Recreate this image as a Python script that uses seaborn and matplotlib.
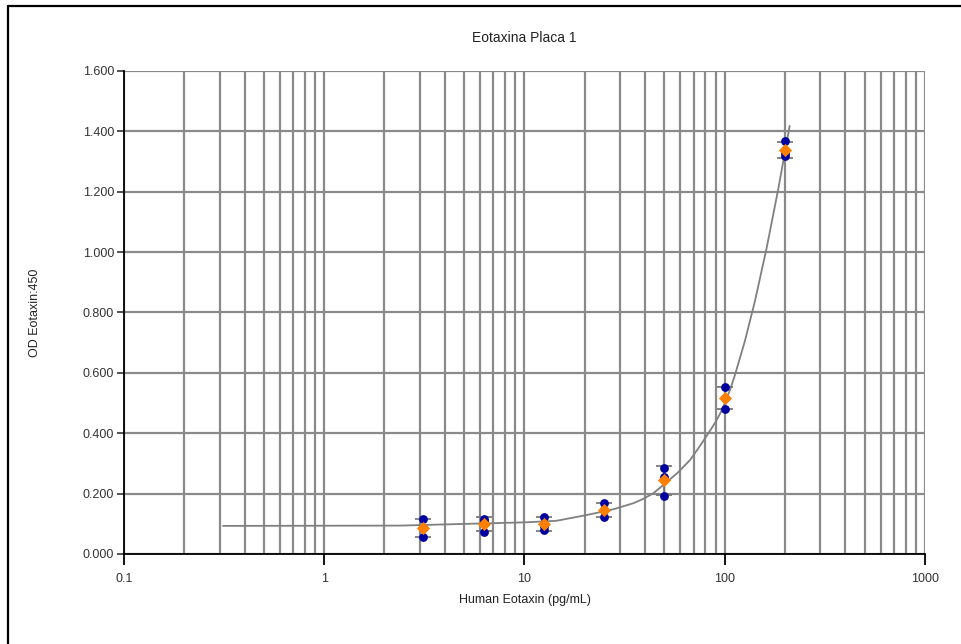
import numpy as np
import pandas as pd
import matplotlib
matplotlib.use("Agg")
import matplotlib.pyplot as plt
from matplotlib.lines import Line2D
from matplotlib.ticker import LogLocator, FixedLocator, NullFormatter
import seaborn as sns

# standards (pg/mL) and triplicate OD readings
conc = [3.125, 6.25, 12.5, 25, 50, 100, 200]
rep1 = [0.116, 0.109, 0.123, 0.169, 0.285, 0.553, 1.368]
rep2 = [0.086, 0.073, 0.080, 0.123, 0.255, 0.517, 1.318]
rep3 = [0.056, 0.115, 0.094, 0.146, 0.192, 0.480, 1.328]

# fitted curve
curve_x = [0.312, 2.39, 10.26, 14.48, 20.45, 27.76, 34.94, 39.07, 43.98, 50.71,
           58.42, 67.08, 73.50, 81.26, 89.39, 94.69, 100.3, 106.2, 112.5, 126.2,
           141.6, 162.0, 185.1, 211.0]
curve_y = [0.093, 0.094, 0.105, 0.110, 0.129, 0.148, 0.168, 0.182, 0.201, 0.235,
           0.270, 0.311, 0.348, 0.391, 0.434, 0.464, 0.500, 0.543, 0.593, 0.706,
           0.838, 1.014, 1.209, 1.418]

reps = pd.DataFrame({
    "conc": conc * 3,
    "od": rep1 + rep2 + rep3,
})
stats = reps.groupby("conc")["od"].agg(["mean", "std"]).reset_index()
curve = pd.DataFrame({"conc": curve_x, "od": curve_y})

sns.set_style("white")
plt.rcParams["font.family"] = ["Liberation Sans", "DejaVu Sans"]

fig = plt.figure(figsize=(9.61, 6.44), dpi=100)
ax = fig.add_axes([0.129, 0.1398, 0.8335, 0.75])

grid_c = "#8a8a8a"
ax.set_xscale("log")
ax.set_xlim(0.1, 1000)
ax.set_ylim(0, 1.6)

ax.xaxis.set_minor_locator(LogLocator(base=10, subs=np.arange(2, 10), numticks=20))
ax.xaxis.set_minor_formatter(NullFormatter())
ax.set_xticks([0.1, 1, 10, 100, 1000])
ax.set_xticklabels(["0.1", "1", "10", "100", "1000"])
ax.yaxis.set_major_locator(FixedLocator(np.arange(0, 1.61, 0.2)))
ax.set_yticklabels([f"{v:.3f}" for v in np.arange(0, 1.61, 0.2)])

ax.grid(True, which="both", axis="x", color=grid_c, lw=1.6)
ax.grid(True, which="major", axis="y", color=grid_c, lw=1.6)
ax.set_axisbelow(True)

for s in ["top", "right"]:
    ax.spines[s].set_visible(False)
for s in ["left", "bottom"]:
    ax.spines[s].set_color("black")
    ax.spines[s].set_linewidth(1.3)

ax.tick_params(axis="x", which="major", direction="out", length=8, width=1.3,
               color="black", bottom=True, labelsize=9, pad=6, labelcolor="#333333")
ax.tick_params(axis="x", which="minor", length=0)
ax.tick_params(axis="y", which="major", direction="out", length=5, width=1.3,
               color="#444444", left=True, labelsize=9, pad=2, labelcolor="#333333")

sns.lineplot(data=curve, x="conc", y="od", sort=False, ax=ax,
             color="#808080", lw=1.3, zorder=3)

ax.errorbar(stats["conc"], stats["mean"], yerr=stats["std"], fmt="none",
            ecolor="#707070", elinewidth=1.0, capsize=6, capthick=1.2, zorder=4)

sns.scatterplot(data=reps, x="conc", y="od", ax=ax, color="#0000a0",
                marker="o", s=40, edgecolor="#0000a0", linewidth=0, zorder=5)
sns.scatterplot(data=stats, x="conc", y="mean", ax=ax, color="#ff8000",
                marker="D", s=45, edgecolor="#ff8000", linewidth=0, zorder=6)

ax.set_title("Eotaxina Placa 1", fontsize=10, pad=21, color="#222222")
ax.set_xlabel("Human Eotaxin (pg/mL)", fontsize=9, labelpad=6, color="#222222")
ax.set_ylabel("OD Eotaxin:450", fontsize=9, labelpad=30, color="#222222")

# frame from the original screenshot
fig.add_artist(Line2D([8 / 961, 1], [1 - 6 / 644, 1 - 6 / 644],
                      transform=fig.transFigure, color="black", lw=1.6))
fig.add_artist(Line2D([8 / 961, 8 / 961], [0, 1 - 6 / 644],
                      transform=fig.transFigure, color="black", lw=1.6))

fig.savefig("out.png", dpi=100)
